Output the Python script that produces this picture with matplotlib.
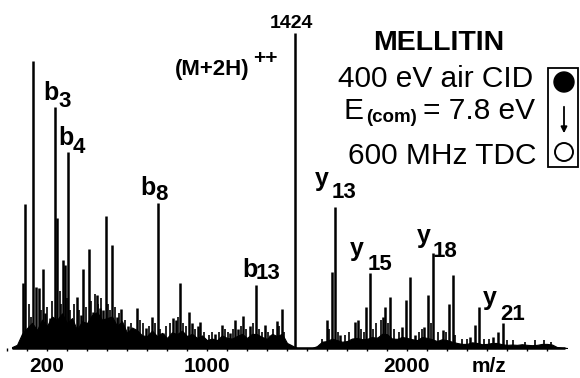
import matplotlib
matplotlib.use('Agg')
import matplotlib.pyplot as plt
from matplotlib.patches import Rectangle, Circle, FancyArrowPatch

plt.rcParams['font.family'] = ['Liberation Sans', 'DejaVu Sans']

# main peaks: m/z and relative intensity (1424 peak = 100)
peak_mz = [78, 90, 132, 145, 160, 178, 190, 215, 240, 250, 280, 290, 307, 325,
           352, 370, 382, 410, 430, 448, 465, 480, 493, 525, 550, 570, 605, 650,
           695, 725, 753, 780, 830, 845, 865, 912, 925, 955, 965, 1040, 1073,
           1115, 1140, 1155, 1182, 1215, 1243, 1290, 1315, 1350, 1373, 1440,
           1598, 1625, 1640, 1665, 1740, 1755, 1795, 1815, 1855, 1880, 1890,
           1915, 1975, 1995, 2015, 2040, 2085, 2105, 2130, 2180, 2210, 2230,
           2315, 2340, 2360, 2430, 2455, 2480]
peak_int = [20.6, 45.7, 91.1, 19.4, 19.0, 25.1, 11.0, 9.5, 76.5, 41.3, 27.9, 26.3,
            62.2, 6.0, 16.2, 10.5, 25.1, 31.4, 11.4, 16.8, 12.7, 12.0, 41.9, 32.7,
            9.8, 12.4, 7.0, 12.7, 6.5, 9.8, 46.0, 4.8, 9.5, 9.0, 20.6, 11.4, 8.0,
            7.0, 8.3, 4.5, 7.3, 4.8, 8.9, 6.0, 10.2, 7.0, 20.0, 7.3, 4.0, 8.6, 12.4,
            100.0, 8.9, 24.1, 44.8, 4.0, 8.3, 8.9, 13.0, 23.8, 3.5, 9.8, 13.0, 16.2,
            6.7, 15.2, 22.5, 4.0, 6.7, 16.8, 30.2, 5.7, 14.0, 23.2, 3.5, 7.3, 13.0,
            3.5, 5.0, 7.9]

# small spikes in the grass
small_mz = [110, 120, 170, 200, 225, 265, 270, 300, 315, 335, 360, 395, 420, 440,
            455, 470, 505, 515, 540, 560, 590, 620, 665, 680, 710, 740, 765, 795,
            815, 855, 880, 895, 940, 985, 1010, 1025, 1060, 1090, 1105, 1130, 1170,
            1195, 1230, 1260, 1275, 1305, 1330, 1360, 1385, 1575, 1610, 1655, 1690,
            1710, 1770, 1785, 1830, 1845, 1870, 1905, 1935, 1960, 2060, 2075, 2120,
            2155, 2195, 2240, 2275, 2300, 2385, 2410, 2500, 2530, 2590, 2640, 2685,
            2720]
small_int = [14, 10, 12, 13, 15, 18, 14, 16, 12, 14, 12, 13, 15, 17,
             14, 16, 14, 12, 13, 11, 9, 8, 9, 8, 7, 8, 6, 7,
             8, 10, 8, 7, 6, 5, 4, 5, 5, 6, 5, 6, 7,
             6, 8, 6, 5, 5, 6, 7, 5, 3, 6, 5, 4,
             5, 6, 5, 6, 8, 9, 8, 6, 5, 5, 6, 8,
             5, 5, 4, 3, 3, 3, 3, 2.5, 2.5, 2, 2.5, 2.5,
             2]

# chemical noise floor
noise_mz = list(range(25, 2801, 25))
noise_int = [0.3, 1.0, 4.5, 6.3, 8.0, 5.7, 9.0, 7.0, 10.0, 8.9, 11.0, 7.9, 9.5,
             5.7, 8.5, 7.9, 10.5, 11.4, 9.0, 9.5, 10.0, 7.0, 8.5, 4.8, 6.5, 5.7,
             4.0, 3.8, 5.5, 3.8, 4.8, 3.2, 5.0, 4.4, 5.5, 3.8, 4.5, 3.2, 4.0, 2.5,
             3.0, 2.5, 4.0, 3.2, 3.0, 3.8, 4.5, 3.2, 4.5, 4.4, 3.5, 2.9, 4.5, 3.8,
             4.5, 1.6, 0.8, 0.0, 0.0, 0.0, 0.0, 0.6, 2.0, 2.2, 3.0, 2.5, 2.0, 2.2,
             3.0, 3.2, 2.8, 2.9, 3.5, 3.2, 4.5, 4.4, 3.0, 2.9, 3.5, 3.2, 2.8, 2.5,
             3.5, 3.2, 2.8, 2.2, 2.8, 2.5, 2.0, 1.6, 1.3, 1.3, 1.8, 1.6, 1.2, 1.3,
             1.6, 1.6, 1.2, 1.0, 1.1, 1.0, 1.2, 1.0, 0.9, 1.0, 1.3, 1.3, 1.1, 0.3,
             0.1, 0.0]

tick_vals = [200, 1000, 2000]
tick_labels = ['200', '1000', '2000']

W, H = 580, 378


def px(x, y):
    return x / W, 1 - y / H


fig = plt.figure(figsize=(5.8, 3.78), dpi=100)
ax = fig.add_axes([0, 30 / H, 1, 348 / H])
ax.fill_between(noise_mz, 0, noise_int, color='black', lw=0.8)
ax.vlines(small_mz, 0, small_int, color='black', lw=1.2)
ax.vlines(peak_mz, 0, peak_int, color='black', lw=1.8)
ax.hlines(0, 25, 2790, color='black', lw=1.8, clip_on=False)
ax.set_xlim(-35, 2865)
ax.set_ylim(0, 110.5)
for s in ax.spines.values():
    s.set_visible(False)
ax.set_yticks([])
ax.set_xticks(tick_vals)
ax.set_xticklabels(tick_labels, fontsize=15, fontweight='bold')
ax.set_xticks(range(0, 2800, 100), minor=True)
ax.tick_params(axis='x', which='both', direction='out', length=2.5, width=1, pad=4)

# peak labels: letter + lowered number
def sub_label(x, y, letter, num, x2, y2):
    fig.text(*px(x, y), letter, ha='left', va='baseline', fontsize=18, fontweight='bold')
    fig.text(*px(x2, y2), num, ha='left', va='baseline', fontsize=16, fontweight='bold')

sub_label(43, 100, 'b', '3', 58, 107)
sub_label(58, 145, 'b', '4', 73, 153)
sub_label(140, 195, 'b', '8', 155, 200)
sub_label(242, 277, 'b', '13', 256, 279)
sub_label(315, 186, 'y', '13', 332, 198)
sub_label(350, 256, 'y', '15', 368, 270)
sub_label(417, 243, 'y', '18', 433, 257)
sub_label(483, 305, 'y', '21', 500, 320)

fig.text(*px(291, 28), '1424', ha='center', va='baseline', fontsize=14, fontweight='bold')
fig.text(*px(175, 75), '(M+2H)', ha='left', va='baseline', fontsize=16, fontweight='bold')
fig.text(*px(253, 64), '++', ha='left', va='baseline', fontsize=15, fontweight='bold')
fig.text(*px(489, 372), 'm/z', ha='center', va='baseline', fontsize=15, fontweight='bold')

fig.text(*px(439, 50), 'MELLITIN', ha='center', va='baseline', fontsize=20.5, fontweight='bold')
fig.text(*px(533, 87), '400 eV air CID', ha='right', va='baseline', fontsize=21.5)
fig.text(*px(364, 119), 'E', ha='right', va='baseline', fontsize=21.5)
fig.text(*px(417, 122), '(com)', ha='right', va='baseline', fontsize=13.5, fontweight='bold')
fig.text(*px(535, 119), '= 7.8 eV', ha='right', va='baseline', fontsize=21.5)
fig.text(*px(536, 164), '600 MHz TDC', ha='right', va='baseline', fontsize=21.5)

# box with filled -> open circle symbol
ov = fig.add_axes([0, 0, 1, 1])
ov.set_xlim(0, W)
ov.set_ylim(H, 0)
ov.axis('off')
ov.add_patch(Rectangle((548, 68), 30, 99, fill=False, ec='black', lw=1.3))
ov.add_patch(Circle((564, 82), 10, fc='black', ec='black'))
ov.add_patch(Circle((564, 152), 9, fc='white', ec='black', lw=1.4))
ov.add_patch(FancyArrowPatch((564, 104), (564, 136), arrowstyle='-|>', mutation_scale=9,
                             color='black', lw=1.3))

fig.savefig('out.png', dpi=100)
